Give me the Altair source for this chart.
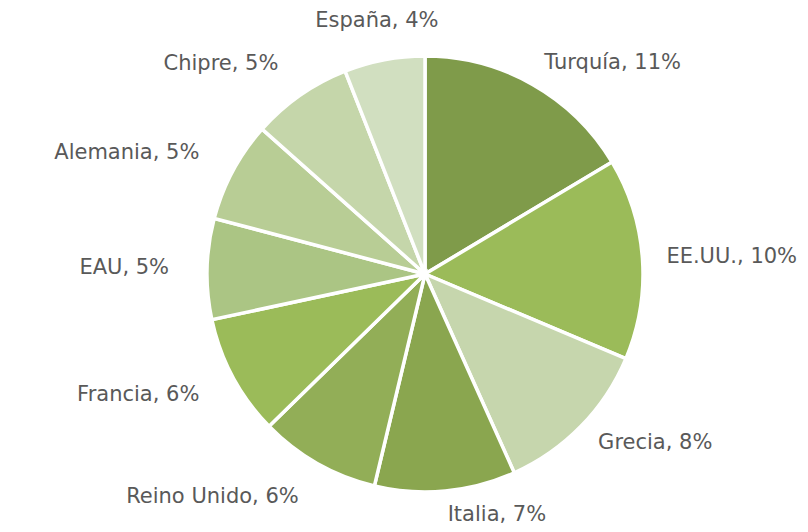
import altair as alt
import pandas as pd

countries = ["Turquía", "EE.UU.", "Grecia", "Italia", "Reino Unido",
             "Francia", "EAU", "Alemania", "Chipre", "España"]
shares = [11, 10, 8, 7, 6, 6, 5, 5, 5, 4]
colors = ["#7f9b4a", "#9bbb59", "#c6d6ad", "#8aa64f", "#92ae57",
          "#9bbb59", "#abc584", "#b8cd95", "#c5d6aa", "#d1dfc0"]

df = pd.DataFrame({
    "idx": list(range(len(countries))),
    "country": countries,
    "share": shares,
})
df["label"] = [f"{c}, {v}%" for c, v in zip(countries, shares)]

total = sum(shares)
CX, CY = 417, 266
theta_scale = alt.Scale(domain=[0, total])

base = alt.Chart(df)

pie = base.mark_arc(outerRadius=218, stroke="white", strokeWidth=3.5).encode(
    theta=alt.Theta("share:Q", stack=True, scale=theta_scale),
    color=alt.Color("country:N", scale=alt.Scale(domain=countries, range=colors), legend=None),
    order=alt.Order("idx:Q", sort="ascending"),
    x=alt.value(CX),
    y=alt.value(CY),
)

lab_base = base.transform_window(
    cum="sum(share)", sort=[alt.SortField("idx")], frame=[None, 0]
).transform_calculate(
    mid="datum.cum - datum.share / 2"
).transform_calculate(
    s=f"sin(2 * PI * datum.mid / {total})"
)

def label_layer(cond, align, radius):
    return lab_base.transform_filter(cond).mark_text(
        radius=radius, align=align, baseline="middle",
        font="DejaVu Sans", fontSize=21, color="#595959"
    ).encode(
        theta=alt.Theta("mid:Q", stack=None, scale=theta_scale),
        text="label:N",
        x=alt.value(CX),
        y=alt.value(CY),
    )

left = label_layer("datum.s > 0", "left", 242)
right = label_layer("datum.s < -0.3", "right", 256)
center = label_layer("datum.s <= 0 && datum.s >= -0.3", "center", 258)

chart = alt.layer(pie, left, right, center).properties(
    width=792, height=516, padding=0
).configure_view(stroke=None)

chart.save("out.html", embed_options={"renderer": "svg", "actions": False})
